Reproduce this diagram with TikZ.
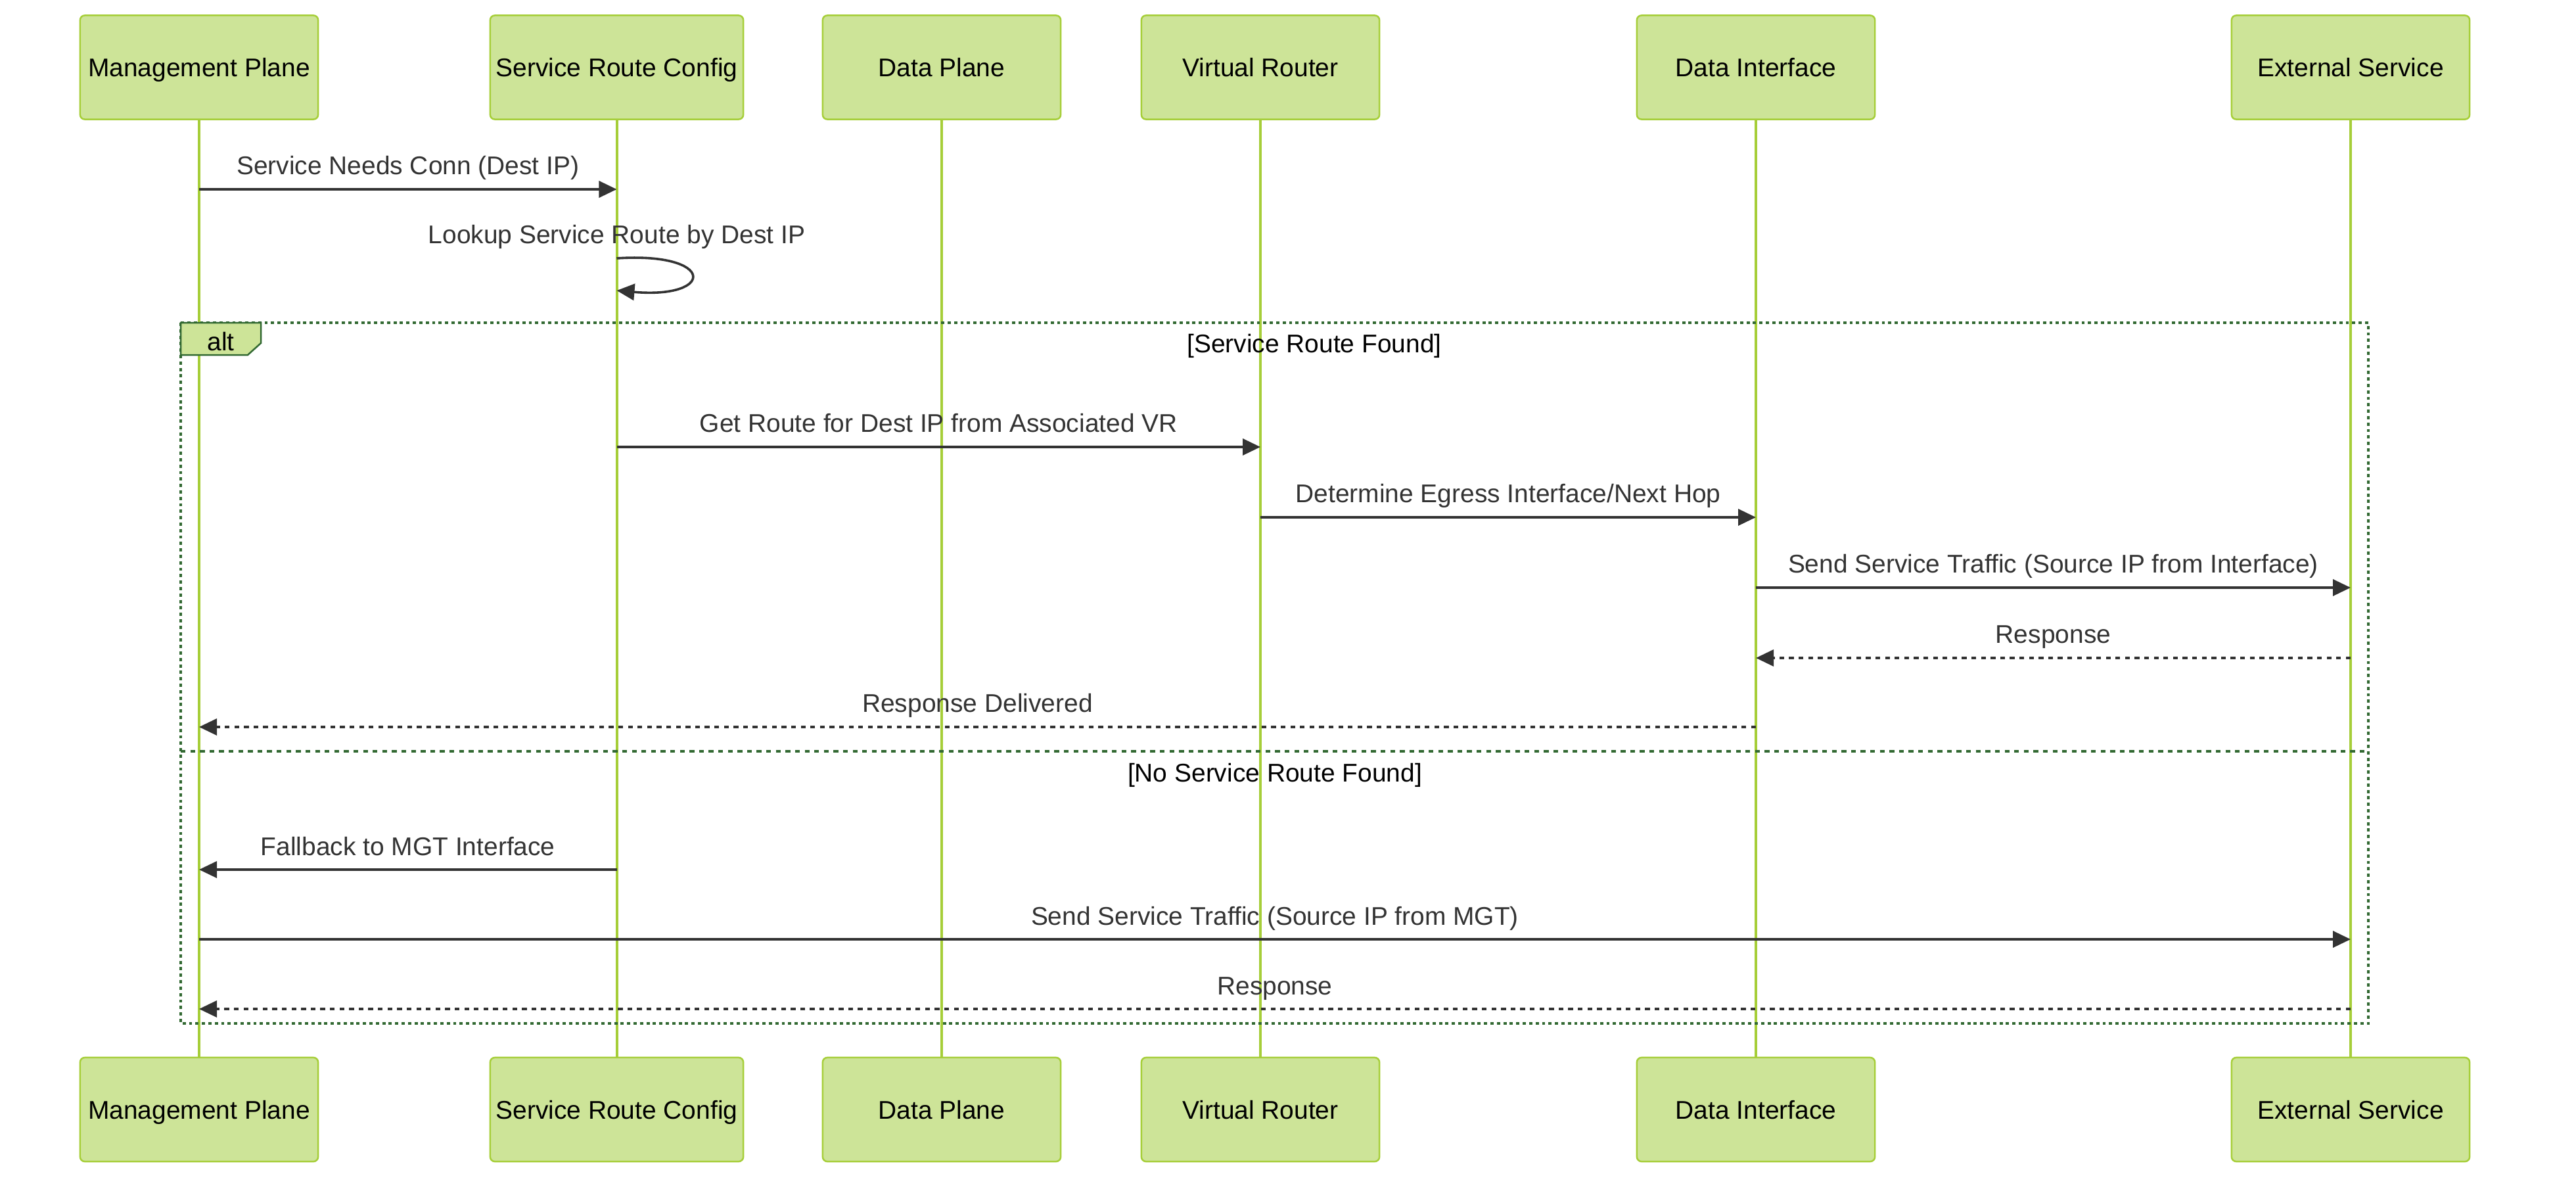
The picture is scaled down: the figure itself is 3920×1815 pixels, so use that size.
\documentclass[tikz,border=0pt]{standalone}
\usepackage{fontspec}
\setmainfont{Liberation Sans}
\usepackage{tikz}
\usetikzlibrary{arrows.meta}

\definecolor{actorfill}{HTML}{CDE498}
\definecolor{actorline}{HTML}{A6CE39}
\definecolor{msgcol}{HTML}{333333}
\definecolor{altcol}{HTML}{326932}

\begin{document}
\begin{tikzpicture}[x=0.01cm,y=-0.01cm,
  font=\fontsize{11.07pt}{13.3pt}\selectfont,
  actor/.style={draw=actorline,fill=actorfill,line width=0.025cm,rounded corners=0.07cm,
    minimum width=3.62cm,minimum height=1.58cm,inner sep=0pt,
    text height=0.85em,text depth=0.05em,text=black},
  lifeline/.style={draw=actorline,line width=0.04cm},
  msg/.style={draw=msgcol,line width=0.036cm,-{Triangle[length=0.27cm,width=0.25cm]}},
  reply/.style={msg,dash pattern=on 0.073cm off 0.073cm},
  lbl/.style={anchor=base,yshift=0.22cm,text=msgcol,inner sep=0pt},
  altline/.style={draw=altcol,line width=0.04cm,dash pattern=on 0.049cm off 0.049cm},
  sepline/.style={draw=altcol,line width=0.04cm,dash pattern=on 0.073cm off 0.073cm},
  guard/.style={anchor=base,text=black,inner sep=0pt}]
\useasboundingbox (0,0) rectangle (3920,1815);

% participants, top and bottom
\node[actor] (mpT) at (303,102.5) {Management Plane};
\node[actor,minimum width=3.85cm] (srcT) at (938.5,102.5) {Service Route Config};
\node[actor] (dpT) at (1433,102.5) {Data Plane};
\node[actor] (vrT) at (1918,102.5) {Virtual Router};
\node[actor] (diT) at (2672,102.5) {Data Interface};
\node[actor] (esT) at (3577,102.5) {External Service};

\node[actor] (mpB) at (303,1688) {Management Plane};
\node[actor,minimum width=3.85cm] (srcB) at (938.5,1688) {Service Route Config};
\node[actor] (dpB) at (1433,1688) {Data Plane};
\node[actor] (vrB) at (1918,1688) {Virtual Router};
\node[actor] (diB) at (2672,1688) {Data Interface};
\node[actor] (esB) at (3577,1688) {External Service};

\draw[lifeline] (mpT) -- (mpB);
\draw[lifeline] (srcT) -- (srcB);
\draw[lifeline] (dpT) -- (dpB);
\draw[lifeline] (vrT) -- (vrB);
\draw[lifeline] (diT) -- (diB);
\draw[lifeline] (esT) -- (esB);

% alt frame
\draw[altline] (275,491) rectangle (3604,1557);
\draw[sepline] (275,1143) -- (3604,1143);
\draw[draw=altcol,fill=actorfill,line width=0.025cm] (275,491) -- (397,491) -- (397,522)
  -- (377,540) -- (275,540) -- cycle;
\node[guard] (alt) at (336,533) {alt};
\node[guard] (g1) at (2000,536) {[Service Route Found]};
\node[guard] (g2) at (1940,1189) {[No Service Route Found]};

% messages
\draw[msg] (mpT |- 0,288) -- node[lbl] (l1) {Service Needs Conn (Dest IP)} (srcT |- 0,288);
\node[lbl] (l2) at (srcT |- 0,393) {Lookup Service Route by Dest IP};
\draw[msg] (srcT |- 0,393) .. controls (1089,383) and (1089,455) .. (srcT |- 0,442);
\draw[msg] (srcT |- 0,680) -- node[lbl] (l3) {Get Route for Dest IP from Associated VR} (vrT |- 0,680);
\draw[msg] (vrT |- 0,787) -- node[lbl] (l4) {Determine Egress Interface/Next Hop} (diT |- 0,787);
\draw[msg] (diT |- 0,894) -- node[lbl] (l5) {Send Service Traffic (Source IP from Interface)} (esT |- 0,894);
\draw[reply] (esT |- 0,1001) -- node[lbl] (l6) {Response} (diT |- 0,1001);
\draw[reply] (diT |- 0,1106) -- node[lbl] (l7) {Response Delivered} (mpT |- 0,1106);
\draw[msg] (srcT |- 0,1323) -- node[lbl] (l8) {Fallback to MGT Interface} (mpT |- 0,1323);
\draw[msg] (mpT |- 0,1429) -- node[lbl] (l9) {Send Service Traffic (Source IP from MGT)} (esT |- 0,1429);
\draw[reply] (esT |- 0,1535) -- node[lbl] (l10) {Response} (mpT |- 0,1535);
\end{tikzpicture}
\end{document}
